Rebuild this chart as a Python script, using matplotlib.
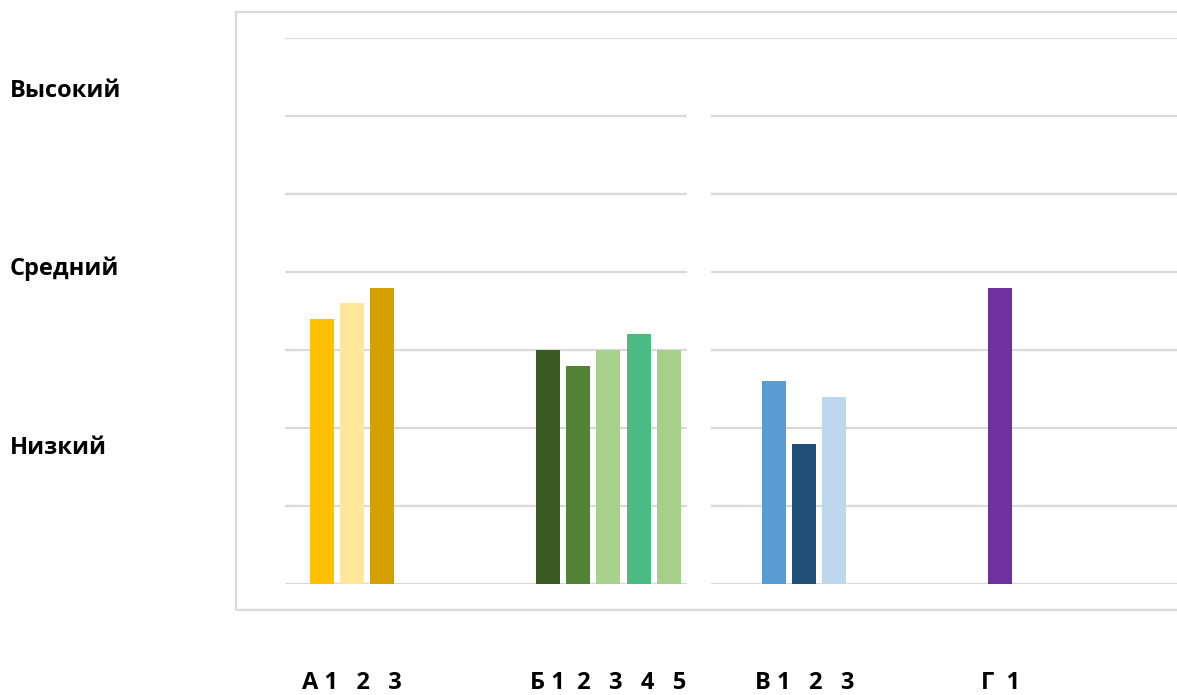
import matplotlib
matplotlib.use("Agg")
import matplotlib.pyplot as plt
from matplotlib.patches import Rectangle
from matplotlib.transforms import blended_transform_factory

plt.rcParams["font.family"] = ["Open Sans", "DejaVu Sans"]

# groups and bar heights (0.5 per gridline)
groups = ["А", "Б", "В", "Г"]
group_labels = ["А 1   2   3", "Б 1  2   3   4   5", "В 1   2   3", "Г  1"]
values = [
    [1.7, 1.8, 1.9],
    [1.5, 1.4, 1.5, 1.6, 1.5],
    [1.3, 0.9, 1.2],
    [1.9],
]
colors = [
    ["#FFC000", "#FFE699", "#D4A000"],
    ["#3A5A24", "#548235", "#A9D18E", "#4CBB83", "#A5D08A"],
    ["#5B9BD5", "#1F4E79", "#BDD7EE"],
    ["#7030A0"],
]
levels = ["Высокий", "Средний", "Низкий"]
level_y = [3.16, 2.02, 0.875]

W, H = 1177, 695
fig = plt.figure(figsize=(W / 100, H / 100), dpi=100)
ax = fig.add_axes([285 / W, (H - 584) / H, (W - 285) / W, (584 - 38) / H])

first_off = 0.164   # first bar center from group start
step = 0.1336       # bar pitch inside a group
bar_w = 0.106

for gi, (vals, cols) in enumerate(zip(values, colors)):
    xs = [gi + first_off + step * i for i in range(len(vals))]
    ax.bar(xs, vals, width=bar_w, color=cols, zorder=3)
    ax.text(sum(xs) / len(xs), -0.635, group_labels[gi], ha="center", va="center",
            fontsize=17, fontweight="bold", clip_on=False)

ax.set_xlim(0, (W - 285) / 226)
ax.set_ylim(0, 3.5)
ax.set_yticks([i * 0.5 for i in range(8)])
ax.set_xticks([])
ax.tick_params(left=False, labelleft=False)
ax.grid(axis="y", color="#D9D9D9", linewidth=1.6, zorder=0)
ax.set_axisbelow(True)
for s in ax.spines.values():
    s.set_visible(False)

# white break through the grid between Б and В
ax.add_patch(Rectangle((1.779, -0.03), 0.106, 3.05, facecolor="white",
                       edgecolor="none", zorder=1, clip_on=False))

tr = blended_transform_factory(fig.transFigure, ax.transData)
for lab, y in zip(levels, level_y):
    ax.text(10 / W, y, lab, transform=tr, ha="left", va="center",
            fontsize=17, fontweight="bold")

# outer frame
fig.patches.append(Rectangle((236 / W, (H - 610) / H), 1.0, (610 - 12) / H,
                             transform=fig.transFigure, fill=False,
                             edgecolor="#D9D9D9", linewidth=1.6))

fig.savefig("out.png", dpi=100)
